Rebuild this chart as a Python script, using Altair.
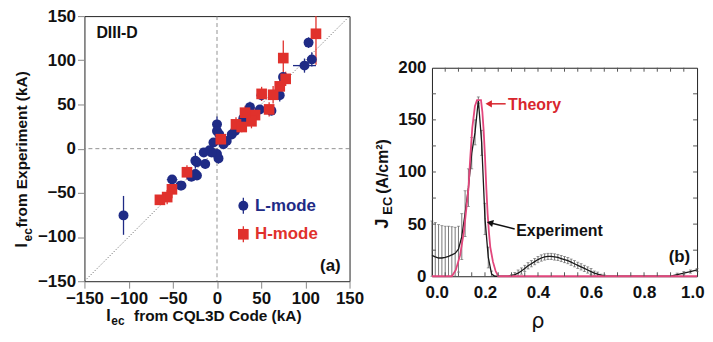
import altair as alt
import pandas as pd

FONT = "Liberation Sans"
BLUE = "#1f2b86"
RED = "#e0312c"
PINK = "#e2467c"

# ---------------- panel (a) data ----------------
L_x = [103.6, 107.3, 99.0, 74.7, 71.0, 50.3, 61.6, 37.3, 48.5, 29.8, 20.4, 16.6, 11.0,
       0.0, 0.0, 2.5, -4.0, 7.3, 1.7, 0.0, -8.4, -15.0, -6.0, -13.3, -22.7, -24.5,
       -24.5, -29.0, -22.7, -40.2, -50.8, -41.4, -105.8]
L_y = [120.0, 101.0, 94.0, 81.0, 60.5, 60.5, 43.0, 47.0, 44.4, 34.3, 20.0, 16.0, 8.8,
       27.5, 20.0, 16.3, 7.0, 5.0, -11.0, -6.0, -1.7, -4.3, -4.3, -17.4, -15.5, -13.7,
       -28.7, -31.7, -30.5, -41.8, -35.0, -41.8, -75.5]
L_yerr = [6, 8, 8, 5, 7, 6, 5, 6, 5, 5, 5, 4, 4,
          9, 6, 5, 4, 4, 6, 5, 4, 4, 4, 5, 5, 9,
          5, 5, 4, 5, 4, 4, 22]
L_xerr = [0, 3, 13, 0, 0, 0, 0, 0, 3, 0, 0, 0, 0,
          0, 0, 0, 0, 0, 0, 0, 0, 0, 0, 0, 0, 0,
          0, 3, 0, 0, 6, 0, 0]

H_x = [112.0, 75.0, 77.7, 71.0, 63.5, 50.5, 59.0, 43.0, 39.0, 31.7, 21.5, 28.0, 4.3,
       -34.0, -51.0, -56.4, -64.6]
H_y = [130.0, 102.5, 79.0, 70.5, 61.0, 62.0, 44.4, 38.0, 31.0, 40.7, 27.5, 24.5, 10.7,
       -26.7, -46.0, -54.8, -57.9]
H_yerr = [35, 20, 8, 8, 10, 8, 8, 8, 8, 8, 8, 6, 6, 8, 10, 8, 5]
H_xerr = [0, 0, 0, 0, 0, 0, 0, 0, 0, 0, 0, 0, 0, 0, 0, 0, 0]

LEG_labels = ["L-mode", "H-mode"]
LEG_y = [-64.6, -96.9]

# ---------------- panel (b) data ----------------
EXP_rho = [0, 0.0125, 0.025, 0.0375, 0.05, 0.0625, 0.075, 0.0875, 0.1, 0.1125, 0.125,
           0.1375, 0.15, 0.1625, 0.175, 0.1875, 0.2, 0.2125, 0.225, 0.2375, 0.25,
           0.2625, 0.275, 0.2875,
           0.3, 0.3125, 0.325, 0.3375, 0.35, 0.3625, 0.375, 0.3875, 0.4, 0.4125, 0.425,
           0.4375, 0.45, 0.4625, 0.475, 0.4875, 0.5, 0.5125, 0.525, 0.5375, 0.55, 0.5625,
           0.575, 0.5875, 0.6, 0.6125, 0.625, 0.6375, 0.65,
           0.675, 0.9, 0.925, 0.95, 0.975, 1.0]
EXP_j = [20, 18.5, 17.5, 17.5, 18, 19, 20.5, 22, 26, 38, 60,
         85, 118, 138, 169, 128, 55, 18, 2, 0, 0,
         0, 0, 0,
         0.5, 1.5, 3, 5, 7.5, 10, 12, 14, 16, 17.5, 18.5,
         19, 19, 18.5, 18, 17, 16, 15, 13.5, 12, 10.5, 9,
         7.5, 6, 4.5, 3, 2, 1, 0.3,
         0, 0, 1.5, 3, 4.5, 6]
EXP_err = [33, 33, 32, 31, 30, 29, 27, 25, 22, 22, 22,
           18, 15, 12, 3, 12, 15, 10, 3, 0, 0,
           0, 0, 0,
           1, 2, 3, 3, 3, 3, 3, 3, 3, 3, 3,
           3, 3, 3, 3, 3, 3, 3, 3, 3, 3, 3,
           3, 3, 3, 2, 2, 1, 1,
           0, 0, 1.5, 1.5, 1.5, 1.5]

TH_rho = [0, 0.075, 0.09, 0.106, 0.12, 0.131, 0.138, 0.144, 0.152, 0.162, 0.17, 0.185,
          0.19, 0.195, 0.2, 0.205, 0.21, 0.215, 0.22, 0.23, 0.24, 0.25, 1.0]
TH_j = [0, 0, 6, 20, 42, 68, 85, 112, 142, 163, 169, 169,
        158, 140, 115, 85, 60, 42, 28, 14, 5, 0, 0]

XT_minor = [0.05 * i for i in range(1, 20)]
YT_minor = [25, 50, 75, 100, 125, 150, 175]

# ---------------- helpers ----------------
one = pd.DataFrame({"a": [0]})

axL = dict(values=[-150, -100, -50, 0, 50, 100, 150], title=None, tickSize=7,
           labelPadding=2, tickColor="#888", labelOverlap=False, labelFlush=False)
sL = alt.Scale(domain=[-150, 150], nice=False, zero=False)


def LX(f):
    return alt.X(f, type="quantitative", scale=sL, axis=alt.Axis(**axL))


def LY(f):
    return alt.Y(f, type="quantitative", scale=sL, axis=alt.Axis(**axL))


sRX = alt.Scale(domain=[0, 1], nice=False)
sRY = alt.Scale(domain=[0, 200], nice=False)


def RX(f):
    return alt.X(f, type="quantitative", scale=sRX,
                 axis=alt.Axis(values=[0, 0.2, 0.4, 0.6, 0.8, 1.0], format=".1f",
                               ticks=False, labelPadding=8, title=None,
                               labelOverlap=False, labelFlush=True, labelFlushOffset=7))


def RY(f):
    return alt.Y(f, type="quantitative", scale=sRY,
                 axis=alt.Axis(values=[0, 50, 100, 150, 200], ticks=False,
                               labelPadding=6, title=None, labelOverlap=False, labelFlush=False))


def ptext(txt, x, y, size=16, angle=0, color="#111", weight="bold", align="left", font=FONT):
    kw = dict(text=txt, fontSize=size, font=font, fontWeight=weight, color=color,
              align=align, baseline="alphabetic")
    if angle:
        kw["angle"] = angle
    return alt.Chart(one).mark_text(**kw).encode(x=alt.value(x), y=alt.value(y))


# ---------------- panel (a) ----------------
dL = pd.DataFrame({"x": L_x, "y": L_y, "ye": L_yerr, "xe": L_xerr})
dH = pd.DataFrame({"x": H_x, "y": H_y, "ye": H_yerr, "xe": H_xerr})
calc = dict(ylo="max(-150, datum.y - datum.ye)", yhi="min(150, datum.y + datum.ye)",
            xlo="datum.x - datum.xe", xhi="datum.x + datum.xe")

zero = pd.DataFrame({"v": [0]})
diag = pd.DataFrame({"x": [-150, 150], "y": [-150, 150]})

zx = alt.Chart(zero).mark_rule(color="#777", strokeDash=[4, 3], strokeWidth=0.8).encode(x=LX("v"))
zy = alt.Chart(zero).mark_rule(color="#777", strokeDash=[4, 3], strokeWidth=0.8).encode(y=LY("v"))
dg = alt.Chart(diag).mark_line(color="#555", strokeDash=[1, 2], strokeWidth=1).encode(x=LX("x"), y=LY("y"))


def errs(d, color):
    base = alt.Chart(d).transform_calculate(**calc)
    v = base.mark_rule(color=color, strokeWidth=1.3).encode(x=LX("x"), y=LY("ylo"), y2="yhi")
    h = base.transform_filter("datum.xe > 0").mark_rule(color=color, strokeWidth=1.3).encode(
        y=LY("y"), x=LX("xlo"), x2="xhi")
    return [v, h]


ptsL = alt.Chart(dL).mark_point(shape="circle", filled=True, size=100, color=BLUE, opacity=1).encode(
    x=LX("x"), y=LY("y"))
ptsH = alt.Chart(dH).mark_point(shape="square", filled=True, size=115, color=RED, opacity=1).encode(
    x=LX("x"), y=LY("y"))

dleg = pd.DataFrame({"lab": LEG_labels, "y": LEG_y, "x": [29.8, 29.8], "tx": [43.0, 43.0],
                     "ylo": [v - 9 for v in LEG_y], "yhi": [v + 9 for v in LEG_y]})
leg_err_L = alt.Chart(dleg.iloc[[0]]).mark_rule(color=BLUE, strokeWidth=1.3).encode(x=LX("x"), y=LY("ylo"), y2="yhi")
leg_err_H = alt.Chart(dleg.iloc[[1]]).mark_rule(color=RED, strokeWidth=1.3).encode(x=LX("x"), y=LY("ylo"), y2="yhi")
leg_pt_L = alt.Chart(dleg.iloc[[0]]).mark_point(shape="circle", filled=True, size=100, color=BLUE, opacity=1).encode(x=LX("x"), y=LY("y"))
leg_pt_H = alt.Chart(dleg.iloc[[1]]).mark_point(shape="square", filled=True, size=115, color=RED, opacity=1).encode(x=LX("x"), y=LY("y"))
leg_tx_L = alt.Chart(dleg.iloc[[0]]).mark_text(font=FONT, fontWeight="bold", fontSize=17, color=BLUE,
                                               align="left", baseline="middle").encode(x=LX("tx"), y=LY("y"), text="lab:N")
leg_tx_H = alt.Chart(dleg.iloc[[1]]).mark_text(font=FONT, fontWeight="bold", fontSize=17, color=RED,
                                               align="left", baseline="middle").encode(x=LX("tx"), y=LY("y"), text="lab:N")

dannA = pd.DataFrame({"t": ["DIII-D", "(a)"], "x": [-136.5, 140.0], "y": [131.0, -133.0]})
annA1 = alt.Chart(dannA.iloc[[0]]).mark_text(font=FONT, fontWeight="bold", fontSize=16, color="#111",
                                             align="left", baseline="middle").encode(x=LX("x"), y=LY("y"), text="t:N")
annA2 = alt.Chart(dannA.iloc[[1]]).mark_text(font=FONT, fontWeight="bold", fontSize=17, color="#111",
                                             align="right", baseline="middle").encode(x=LX("x"), y=LY("y"), text="t:N")

titlesA = [
    ptext("I", 22, 307, size=16),
    ptext("ec", 27, 311, size=12),
    ptext("from CQL3D Code (kA)", 50, 307, size=15.5),
    ptext("I", -58, 233, size=16, angle=270),
    ptext("ec", -53, 227, size=12, angle=270),
    ptext("from Experiment (kA)", -58, 213, size=15.5, angle=270),
]

left = alt.layer(zx, zy, dg, *errs(dL, BLUE), *errs(dH, RED), ptsL, ptsH,
                 leg_err_L, leg_err_H, leg_pt_L, leg_pt_H, leg_tx_L, leg_tx_H,
                 annA1, annA2, *titlesA).properties(width=267, height=267)

# ---------------- panel (b) ----------------
dE = pd.DataFrame({"r": EXP_rho, "j": EXP_j, "e": EXP_err})
dT = pd.DataFrame({"r": TH_rho, "j": TH_j})

eb = alt.Chart(dE).transform_filter("datum.e > 0").transform_calculate(
    lo="max(0, datum.j - datum.e)", hi="datum.j + datum.e")
eb_rule = eb.mark_rule(color="#555", strokeWidth=0.8).encode(x=RX("r"), y=RY("lo"), y2="hi")
eb_cap1 = eb.mark_tick(orient="horizontal", size=3, thickness=0.8, color="#555").encode(x=RX("r"), y=RY("lo"))
eb_cap2 = eb.mark_tick(orient="horizontal", size=3, thickness=0.8, color="#555").encode(x=RX("r"), y=RY("hi"))
exp_line = alt.Chart(dE).mark_line(color="#1a1a1a", strokeWidth=1.3).encode(x=RX("r"), y=RY("j"))
th_line = alt.Chart(dT).mark_line(color=PINK, strokeWidth=1.8).encode(x=RX("r"), y=RY("j"))

dxt = pd.DataFrame({"r": XT_minor})
xt_b = alt.Chart(dxt).transform_calculate(a="0", b="3.8").mark_rule(color="#555").encode(x=RX("r"), y=RY("a:Q"), y2="b:Q")
xt_t = alt.Chart(dxt).transform_calculate(a="200", b="196.2").mark_rule(color="#555").encode(x=RX("r"), y=RY("a:Q"), y2="b:Q")
dyt = pd.DataFrame({"j": YT_minor})
yt_l = alt.Chart(dyt).transform_calculate(a="0", b="0.015").mark_rule(color="#555").encode(y=RY("j"), x=RX("a:Q"), x2="b:Q")
yt_r = alt.Chart(dyt).transform_calculate(a="1", b="0.985").mark_rule(color="#555").encode(y=RY("j"), x=RX("a:Q"), x2="b:Q")

dannB = pd.DataFrame({"t": ["Theory", "Experiment", "(b)"], "r": [0.287, 0.318, 0.974],
                      "j": [164.5, 43.8, 18.8]})
tTheory = alt.Chart(dannB.iloc[[0]]).mark_text(font=FONT, fontWeight="bold", fontSize=16, color="#d8262e",
                                               align="left", baseline="middle").encode(x=RX("r"), y=RY("j"), text="t:N")
tExp = alt.Chart(dannB.iloc[[1]]).mark_text(font=FONT, fontWeight="bold", fontSize=16, color="#111",
                                            align="left", baseline="middle").encode(x=RX("r"), y=RY("j"), text="t:N")
tB = alt.Chart(dannB.iloc[[2]]).mark_text(font=FONT, fontWeight="bold", fontSize=17, color="#111",
                                          align="right", baseline="middle").encode(x=RX("r"), y=RY("j"), text="t:N")

arT = pd.DataFrame({"r": [0.214, 0.278], "j": [165.4, 165.4]})
arT_line = alt.Chart(arT).mark_line(color="#d8262e", strokeWidth=1.5).encode(x=RX("r"), y=RY("j"))
arT_head = alt.Chart(arT.iloc[[0]]).mark_point(shape="triangle-left", filled=True, size=55, color="#d8262e",
                                               opacity=1).encode(x=RX("r"), y=RY("j"))
arE = pd.DataFrame({"r": [0.2187, 0.312], "j": [51.3, 45.4]})
arE_line = alt.Chart(arE).mark_line(color="#111", strokeWidth=1.5).encode(x=RX("r"), y=RY("j"))
arE_head = alt.Chart(arE.iloc[[0]]).mark_point(shape="triangle-left", filled=True, size=55, color="#111",
                                               angle=14, opacity=1).encode(x=RX("r"), y=RY("j"))

titlesB = [
    ptext("J", -44, 162, size=18, angle=270),
    ptext("EC", -40, 148, size=13, angle=270),
    ptext("(A/cm²)", -44, 127, size=16, angle=270),
    ptext("ρ", 100, 262, size=21, weight="normal", font="DejaVu Sans"),
]

right = alt.layer(eb_rule, eb_cap1, eb_cap2, exp_line, th_line, xt_b, xt_t, yt_l, yt_r,
                  tTheory, tExp, tB, arT_line, arT_head, arE_line, arE_head, *titlesB
                  ).properties(width=267, height=210)

spacer = alt.Chart(one).mark_point(opacity=0).encode(x=alt.value(0), y=alt.value(0)).properties(
    width=267, height=52, view=alt.ViewBackground(stroke="transparent"))

right_col = alt.vconcat(spacer, right, spacing=0, bounds="flush")

chart = alt.hconcat(left, right_col, spacing=83, bounds="flush").configure_view(
    stroke="#222", strokeWidth=1
).configure_axis(
    labelFont=FONT, labelFontWeight="bold", labelFontSize=17, labelColor="#111",
    grid=False, domain=False
).properties(background="white", padding={"left": 5, "top": -3, "right": 0, "bottom": 0})

chart.save("out.html", embed_options={"renderer": "svg", "actions": False})
